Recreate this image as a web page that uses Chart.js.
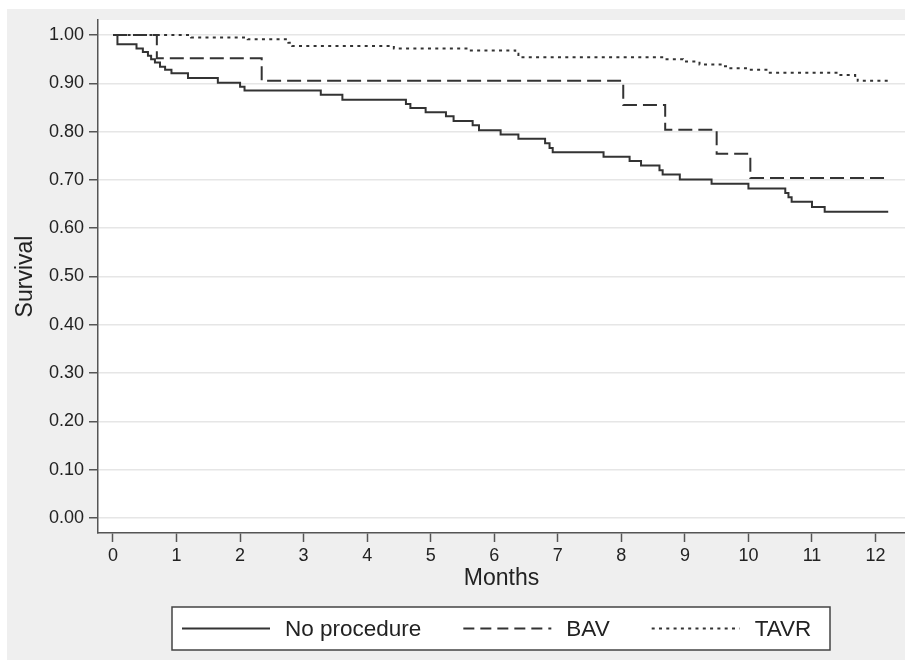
<!DOCTYPE html>
<html>
<head>
<meta charset="utf-8">
<script src="https://cdn.jsdelivr.net/npm/chart.js@4/dist/chart.umd.min.js"></script>
<style>
  html, body { margin: 0; padding: 0; background: #fff; }
  #wrap { position: absolute; left: 7px; top: 9px; width: 898px; height: 651px; }
</style>
</head>
<body>
<div id="wrap"><canvas id="km"></canvas></div>
<script>
// Kaplan-Meier steps (month, survival after the step)
const noProcMonths = [0, 0.07, 0.37, 0.47, 0.55, 0.60, 0.66, 0.74, 0.82, 0.92, 1.18, 1.65, 2.00, 2.07, 3.27, 3.61, 4.61, 4.68, 4.92, 5.24, 5.36, 5.66, 5.76, 6.10, 6.38, 6.80, 6.87, 6.92, 7.72, 8.13, 8.31, 8.60, 8.65, 8.92, 9.42, 10.00, 10.58, 10.63, 10.68, 11.00, 11.20, 12.20];
const noProcSurv   = [1.00, 0.981, 0.972, 0.965, 0.957, 0.950, 0.943, 0.934, 0.928, 0.921, 0.911, 0.901, 0.893, 0.885, 0.876, 0.866, 0.857, 0.849, 0.840, 0.832, 0.822, 0.813, 0.803, 0.794, 0.785, 0.776, 0.766, 0.757, 0.748, 0.739, 0.730, 0.720, 0.711, 0.701, 0.692, 0.682, 0.673, 0.664, 0.655, 0.644, 0.634, 0.634];

const bavMonths = [0, 0.69, 2.34, 8.03, 8.69, 9.50, 10.03, 12.20];
const bavSurv   = [1.00, 0.952, 0.905, 0.855, 0.804, 0.754, 0.704, 0.704];

const tavrMonths = [0, 1.23, 2.12, 2.76, 2.82, 4.42, 5.60, 6.33, 6.38, 8.67, 8.97, 9.23, 9.58, 9.68, 10.00, 10.30, 11.42, 11.68, 11.72, 12.20];
const tavrSurv   = [1.00, 0.995, 0.991, 0.984, 0.977, 0.972, 0.968, 0.961, 0.954, 0.950, 0.945, 0.939, 0.935, 0.931, 0.928, 0.922, 0.917, 0.911, 0.905, 0.905];

const monthTicks = [0,1,2,3,4,5,6,7,8,9,10,11,12];
const survTicks = [0,0.1,0.2,0.3,0.4,0.5,0.6,0.7,0.8,0.9,1.0];

function pts(xs, ys){ return xs.map((x,i)=>({x:x, y:ys[i]})); }

const ink = '#333';
const fontFam = '"Liberation Sans", Arial, Helvetica, sans-serif';

const bgPlugin = {
  id: 'bg',
  beforeDraw(chart){
    const {ctx, chartArea:a} = chart;
    ctx.save();
    ctx.fillStyle = '#efefef';
    ctx.fillRect(0, 0, chart.width, chart.height);
    ctx.fillStyle = '#fff';
    ctx.fillRect(a.left, a.top, a.right - a.left, a.bottom - a.top);
    ctx.restore();
  }
};

// legend in a framed box under the axis
const boxLegend = {
  id: 'boxLegend',
  afterDraw(chart){
    const ctx = chart.ctx;
    const left = 165, right = 823, top = 598, bottom = 641;
    const cy = (top + bottom) / 2;
    ctx.save();
    ctx.fillStyle = '#fff';
    ctx.fillRect(left, top, right - left, bottom - top);
    ctx.strokeStyle = '#444';
    ctx.lineWidth = 1.5;
    ctx.strokeRect(left, top, right - left, bottom - top);
    ctx.font = '22.5px ' + fontFam;
    ctx.textBaseline = 'middle';
    ctx.fillStyle = '#222';
    let x = left + 10;
    chart.data.datasets.forEach(ds=>{
      ctx.strokeStyle = ds.borderColor;
      ctx.lineWidth = 2;
      ctx.setLineDash(ds.legendDash || []);
      ctx.beginPath();
      ctx.moveTo(x, cy); ctx.lineTo(x + 88, cy);
      ctx.stroke();
      ctx.setLineDash([]);
      x += 88 + 15;
      ctx.fillText(ds.label, x, cy + 1);
      x += ctx.measureText(ds.label).width + 42;
    });
    ctx.restore();
  }
};

new Chart(document.getElementById('km'), {
  type: 'line',
  data: {
    datasets: [
      { label: 'No procedure', data: pts(noProcMonths, noProcSurv), borderColor: ink, borderWidth: 2, stepped: 'before', pointRadius: 0, fill: false, legendDash: [] },
      { label: 'BAV', data: pts(bavMonths, bavSurv), borderColor: ink, borderWidth: 2, borderDash: [14, 6], stepped: 'before', pointRadius: 0, fill: false, legendDash: [11, 6] },
      { label: 'TAVR', data: pts(tavrMonths, tavrSurv), borderColor: ink, borderWidth: 2, borderDash: [3, 4.3], stepped: 'before', pointRadius: 0, fill: false, legendDash: [3, 4.3] }
    ]
  },
  options: {
    responsive: true,
    maintainAspectRatio: false,
    animation: false,
    layout: { padding: { top: 11, right: 0, bottom: 67, left: 0 } },
    plugins: { legend: { display: false }, tooltip: { enabled: false } },
    scales: {
      x: {
        type: 'linear',
        min: -0.236, max: 12.464,
        afterBuildTicks: s => { s.ticks = monthTicks.map(v=>({value:v})); },
        afterFit: s => { s.height = 60; s.paddingLeft = 0; s.paddingRight = 0; },
        grid: { drawOnChartArea: false, tickColor: '#555', tickLength: 9, tickWidth: 1.5 },
        border: { color: '#555', width: 1.5 },
        ticks: { color: '#222', font: { family: fontFam, size: 18 }, padding: 3, maxRotation: 0, autoSkip: false },
        title: { display: true, text: 'Months', color: '#222', font: { family: fontFam, size: 23 }, padding: { top: 0, bottom: 1 } }
      },
      y: {
        type: 'linear',
        min: -0.031, max: 1.031,
        afterBuildTicks: s => { s.ticks = survTicks.map(v=>({value:v})); },
        afterFit: s => { s.width = 91; s.paddingTop = 0; s.paddingBottom = 0; },
        grid: { color: '#e6e6e6', lineWidth: 1.5, tickColor: '#555', tickLength: 9, tickWidth: 1.5 },
        border: { color: '#555', width: 1.5 },
        ticks: { color: '#222', font: { family: fontFam, size: 18 }, padding: 5, autoSkip: false, callback: v => v.toFixed(2) },
        title: { display: true, text: 'Survival', color: '#222', font: { family: fontFam, size: 23 }, padding: { top: 5, bottom: 2 } }
      }
    }
  },
  plugins: [bgPlugin, boxLegend]
});
</script>
</body>
</html>
